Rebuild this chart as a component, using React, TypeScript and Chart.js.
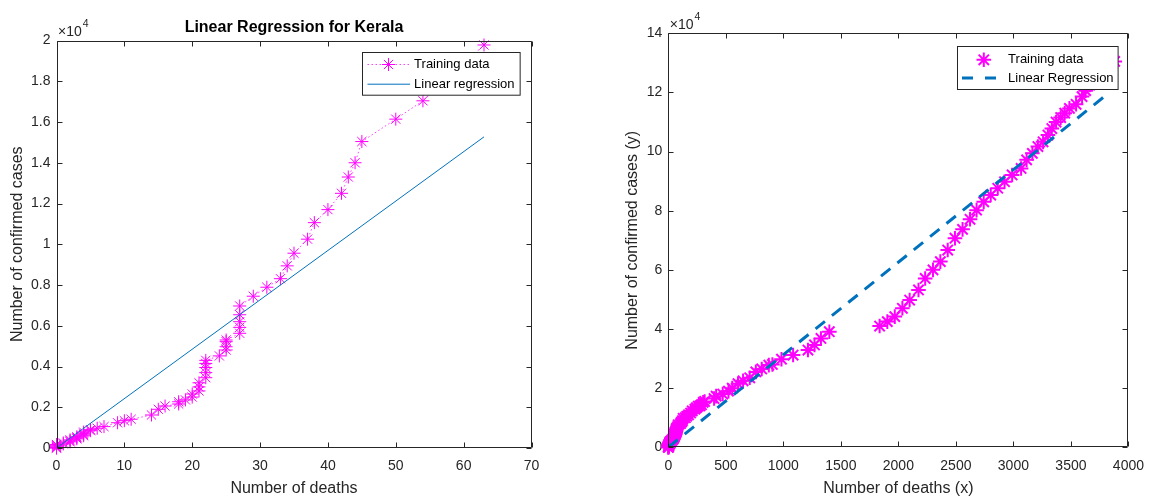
import React, { useEffect, useRef } from 'react';
import { Chart, registerables } from 'chart.js';

Chart.register(...registerables);

// ---------- Left panel: Kerala ----------
const keralaDeaths = [0, 0, 0, 0, 0, 0, 0, 1, 1, 2, 2, 2, 3, 3, 3, 4, 4, 4, 4, 5, 5, 6, 7, 9, 10, 11, 14, 15, 16, 18, 18, 19, 20, 20, 21, 21, 21, 22, 22, 22, 22, 22, 24, 25, 25, 25, 25, 27, 27, 27, 27, 27, 29, 31, 33, 34, 35, 37, 38, 40, 42, 43, 44, 45, 50, 54, 63];
const keralaCases = [1, 5, 20, 60, 100, 140, 170, 200, 250, 300, 350, 400, 450, 500, 550, 600, 650, 720, 780, 850, 900, 970, 1050, 1240, 1340, 1410, 1620, 1900, 2060, 2160, 2270, 2360, 2500, 2650, 2800, 3000, 3200, 3450, 3700, 3950, 4150, 4300, 4520, 4810, 4970, 5220, 5300, 5630, 5920, 6200, 6540, 6970, 7450, 7890, 8310, 8940, 9560, 10250, 11060, 11700, 12500, 13300, 14000, 15040, 16140, 17040, 19780];
const keralaFitDeaths = [0, 63];
const keralaFitCases = [0, 15270];
const keralaXTicks = [0, 10, 20, 30, 40, 50, 60, 70];
const keralaYTicks = [0, 2000, 4000, 6000, 8000, 10000, 12000, 14000, 16000, 18000, 20000];

// ---------- Right panel ----------
const rightDeaths = [0, 1, 2, 3, 4, 5, 6, 7, 9, 10, 12, 13, 15, 19, 24, 30, 38, 43, 45, 47, 50, 54, 57, 61, 64, 66, 68, 73, 81, 86, 106, 115, 123, 129, 148, 160, 176, 194, 208, 231, 245, 261, 276, 288, 303, 316, 398, 416, 473, 523, 556, 606, 650, 708, 761, 812, 874, 905, 984, 1085, 1214, 1271, 1327, 1400, 1837, 1904, 1969, 2035, 2098, 2175, 2233, 2301, 2365, 2429, 2492, 2558, 2623, 2680, 2742, 2803, 2864, 2923, 2989, 3067, 3115, 3165, 3213, 3258, 3300, 3334, 3371, 3411, 3446, 3487, 3545, 3597, 3628, 3663, 3690, 3719, 3745, 3777, 3806, 3881];
const rightCases = [7, 30, 150, 300, 500, 700, 900, 1100, 1150, 1200, 1500, 1600, 1800, 2000, 2100, 2400, 2600, 2900, 3100, 3300, 3500, 3700, 4100, 4500, 5000, 5500, 6000, 6500, 7000, 7600, 8000, 8500, 9000, 9800, 10000, 10500, 11000, 11600, 12300, 12900, 13400, 13900, 14000, 14400, 15200, 15500, 16500, 17300, 18000, 19000, 20000, 21500, 22500, 23500, 25500, 26500, 27800, 28000, 29800, 31200, 32900, 34600, 36800, 39100, 41000, 42500, 44200, 47000, 49800, 53200, 57100, 60000, 62800, 66700, 70700, 73700, 77100, 80200, 83000, 85300, 87600, 89800, 92100, 94300, 97200, 99400, 101700, 103300, 105600, 107800, 110000, 111500, 113000, 114600, 116000, 118600, 120600, 122500, 124300, 125500, 127000, 128200, 129500, 130500];
const rightFitDeaths = [0, 3790];
const rightFitCases = [0, 118600];
const rightXTicks = [0, 500, 1000, 1500, 2000, 2500, 3000, 3500, 4000];
const rightYTicks = [0, 20000, 40000, 60000, 80000, 100000, 120000, 140000];

const MAGENTA = '#ff00ff';
const BLUE = '#0072bd';
const AXIS = '#262626';
const FONT = '"Liberation Sans", Arial, Helvetica, sans-serif';

function pts(xs: number[], ys: number[]) {
  return xs.map((x, i) => ({ x, y: ys[i] }));
}

function drawStar(ctx: CanvasRenderingContext2D, x: number, y: number, r: number, lw: number, color: string) {
  ctx.save();
  ctx.setLineDash([]);
  ctx.strokeStyle = color;
  ctx.lineWidth = lw;
  ctx.beginPath();
  const d = r * Math.SQRT1_2;
  ctx.moveTo(x - r, y); ctx.lineTo(x + r, y);
  ctx.moveTo(x, y - r); ctx.lineTo(x, y + r);
  ctx.moveTo(x - d, y - d); ctx.lineTo(x + d, y + d);
  ctx.moveTo(x - d, y + d); ctx.lineTo(x + d, y - d);
  ctx.stroke();
  ctx.restore();
}

const decorPlugin = {
  id: 'decor',
  afterDatasetsDraw(chart: any, _args: any, opts: any) {
    const { ctx, chartArea: a, scales } = chart;
    ctx.save();
    ctx.setLineDash([]);
    // frame
    const L = Math.round(a.left) + 0.5;
    const R = Math.round(a.right) - 0.5;
    const T = Math.round(a.top) + 0.5;
    const B = Math.round(a.bottom) - 0.5;
    ctx.strokeStyle = AXIS;
    ctx.lineWidth = 1;
    ctx.beginPath();
    ctx.rect(L, T, R - L, B - T);
    const tl = 5;
    scales.x.ticks.forEach((t: any) => {
      const px = Math.round(scales.x.getPixelForValue(t.value)) + 0.5;
      ctx.moveTo(px, B); ctx.lineTo(px, B - tl);
      ctx.moveTo(px, T); ctx.lineTo(px, T + tl);
    });
    scales.y.ticks.forEach((t: any) => {
      const py = Math.round(scales.y.getPixelForValue(t.value)) + 0.5;
      ctx.moveTo(L, py); ctx.lineTo(L + tl, py);
      ctx.moveTo(R, py); ctx.lineTo(R - tl, py);
    });
    ctx.stroke();

    // exponent label
    ctx.fillStyle = AXIS;
    ctx.textAlign = 'left';
    ctx.textBaseline = 'alphabetic';
    ctx.font = `14px ${FONT}`;
    const ex = a.left + 1.5;
    const ey = a.top - 4.8;
    ctx.fillText('\u00d710', ex, ey);
    const w = ctx.measureText('\u00d710').width;
    ctx.font = `10.5px ${FONT}`;
    ctx.fillText('4', ex + w + 1, ey - 9);

    // legend
    const lg = opts.legend;
    ctx.font = `13px ${FONT}`;
    const textW = Math.max(...lg.items.map((it: any) => ctx.measureText(it.label).width));
    const bw = lg.textX + textW + lg.padR;
    const x0 = Math.round(a.right - lg.rightInset - bw) + 0.5;
    const y0 = Math.round(a.top + lg.topInset) + 0.5;
    ctx.fillStyle = '#ffffff';
    ctx.fillRect(x0, y0, bw, lg.height);
    ctx.strokeStyle = AXIS;
    ctx.lineWidth = 1;
    ctx.strokeRect(x0, y0, bw, lg.height);
    lg.items.forEach((it: any, i: number) => {
      const y = y0 + lg.rowY[i];
      if (it.line) {
        ctx.save();
        ctx.strokeStyle = it.lineColor;
        ctx.lineWidth = it.lineWidth;
        ctx.setLineDash(it.dash || []);
        ctx.beginPath();
        ctx.moveTo(x0 + lg.sampleX0, y);
        ctx.lineTo(x0 + lg.sampleX1, y);
        ctx.stroke();
        ctx.restore();
      }
      if (it.star) drawStar(ctx, x0 + lg.starX, y, it.starR, it.starW, MAGENTA);
      ctx.fillStyle = '#000000';
      ctx.textBaseline = 'middle';
      ctx.font = `13px ${FONT}`;
      ctx.fillText(it.label, x0 + lg.textX, y);
    });
    ctx.restore();
  },
};

function tickOpts() {
  return { color: AXIS, font: { family: FONT, size: 14 }, maxRotation: 0, autoSkip: false };
}

function makeLeftConfig(): any {
  return {
    type: 'scatter',
    data: {
      datasets: [
        {
          label: 'Training data',
          data: pts(keralaDeaths, keralaCases),
          showLine: true,
          borderColor: 'rgba(255,0,255,0.75)',
          hoverBorderColor: 'rgba(255,0,255,0.75)',
          borderWidth: 1,
          borderDash: [1.5, 2.5],
          pointStyle: 'star',
          pointRadius: 6.5,
          pointHoverRadius: 6.5,
          pointBorderColor: MAGENTA,
          pointHoverBorderColor: MAGENTA,
          pointBackgroundColor: MAGENTA,
          pointHoverBackgroundColor: MAGENTA,
          pointBorderWidth: 1,
          pointHoverBorderWidth: 1,
          clip: false,
          order: 1,
        },
        {
          label: 'Linear regression',
          data: pts(keralaFitDeaths, keralaFitCases),
          showLine: true,
          borderColor: BLUE,
          hoverBorderColor: BLUE,
          borderWidth: 1,
          pointRadius: 0,
          pointHoverRadius: 0,
          order: 0,
        },
      ],
    },
    options: {
      responsive: false,
      animation: false,
      events: [],
      hover: { mode: null },
      layout: { padding: { left: 0, right: 45.5, top: 0, bottom: 0 } },
      plugins: {
        legend: { display: false },
        tooltip: { enabled: false },
        title: {
          display: true,
          text: 'Linear Regression for Kerala',
          fullSize: false,
          color: '#000000',
          font: { family: FONT, size: 16, weight: 'bold' },
          padding: { top: 18.1, bottom: 3.2 },
        },
        decor: {
          legend: {
            rightInset: 12.2, topInset: 11.8, height: 42.7, rowY: [12, 31.7],
            sampleX0: 5, sampleX1: 47.6, starX: 26, textX: 51.6, padR: 5.6,
            items: [
              { label: 'Training data', line: true, lineColor: 'rgba(255,0,255,0.75)', lineWidth: 1, dash: [1.5, 2.5], star: true, starR: 6.5, starW: 1 },
              { label: 'Linear regression', line: true, lineColor: BLUE, lineWidth: 1 },
            ],
          },
        },
      },
      scales: {
        x: {
          type: 'linear', min: 0, max: 70,
          afterBuildTicks: (s: any) => { s.ticks = keralaXTicks.map((v) => ({ value: v })); },
          afterFit: (s: any) => { s.height = 50; },
          ticks: { ...tickOpts(), padding: 10, callback: (v: any) => String(v) },
          grid: { display: false, drawTicks: false },
          border: { display: false },
          title: { display: true, text: 'Number of deaths', color: AXIS, font: { family: FONT, size: 16 }, padding: { top: 0, bottom: 0 } },
        },
        y: {
          type: 'linear', min: 0, max: 20000,
          afterBuildTicks: (s: any) => { s.ticks = keralaYTicks.map((v) => ({ value: v })); },
          afterFit: (s: any) => { s.width = 56.5; },
          ticks: { ...tickOpts(), padding: 6, callback: (v: any) => String(Math.round(v / 1000) / 10) },
          grid: { display: false, drawTicks: false },
          border: { display: false },
          title: { display: true, text: 'Number of confirmed cases', color: AXIS, font: { family: FONT, size: 16 }, padding: { top: 8.1, bottom: 0 } },
        },
      },
    },
    plugins: [decorPlugin],
  };
}

function makeRightConfig(): any {
  return {
    type: 'scatter',
    data: {
      datasets: [
        {
          label: 'Training data',
          data: pts(rightDeaths, rightCases),
          showLine: false,
          pointStyle: 'star',
          pointRadius: 7.3,
          pointHoverRadius: 7.3,
          pointBorderColor: MAGENTA,
          pointHoverBorderColor: MAGENTA,
          pointBackgroundColor: MAGENTA,
          pointHoverBackgroundColor: MAGENTA,
          pointBorderWidth: 2,
          pointHoverBorderWidth: 2,
          clip: false,
          order: 1,
        },
        {
          label: 'Linear Regression',
          data: pts(rightFitDeaths, rightFitCases),
          showLine: true,
          borderColor: BLUE,
          hoverBorderColor: BLUE,
          borderWidth: 3,
          borderDash: [12, 9],
          pointRadius: 0,
          pointHoverRadius: 0,
          order: 0,
        },
      ],
    },
    options: {
      responsive: false,
      animation: false,
      events: [],
      hover: { mode: null },
      layout: { padding: { left: 0, right: 18.7, top: 33.3, bottom: 0 } },
      plugins: {
        legend: { display: false },
        tooltip: { enabled: false },
        decor: {
          legend: {
            rightInset: 11, topInset: 12.4, height: 43, rowY: [13.3, 31.6],
            sampleX0: 4.5, sampleX1: 47, starX: 26.3, textX: 50.6, padR: 4.5,
            items: [
              { label: 'Training data', line: false, star: true, starR: 7.3, starW: 2 },
              { label: 'Linear Regression', line: true, lineColor: BLUE, lineWidth: 3, dash: [11, 12] },
            ],
          },
        },
      },
      scales: {
        x: {
          type: 'linear', min: 0, max: 4000,
          afterBuildTicks: (s: any) => { s.ticks = rightXTicks.map((v) => ({ value: v })); },
          afterFit: (s: any) => { s.height = 50.7; },
          ticks: { ...tickOpts(), padding: 10, callback: (v: any) => String(v) },
          grid: { display: false, drawTicks: false },
          border: { display: false },
          title: { display: true, text: 'Number of deaths (x)', color: AXIS, font: { family: FONT, size: 16 }, padding: { top: 0, bottom: 0 } },
        },
        y: {
          type: 'linear', min: 0, max: 140000,
          afterBuildTicks: (s: any) => { s.ticks = rightYTicks.map((v) => ({ value: v })); },
          afterFit: (s: any) => { s.width = 91.3; },
          ticks: { ...tickOpts(), padding: 6, callback: (v: any) => String(Math.round(v / 1e4)) },
          grid: { display: false, drawTicks: false },
          border: { display: false },
          title: { display: true, text: 'Number of confirmed cases (y)', color: AXIS, font: { family: FONT, size: 16 }, padding: { top: 46.1, bottom: 0 } },
        },
      },
    },
    plugins: [decorPlugin],
  };
}

function Panel({ left, make }: { left: number; make: () => any }) {
  const ref = useRef<HTMLCanvasElement>(null);
  useEffect(() => {
    const chart = new Chart(ref.current as HTMLCanvasElement, make());
    return () => chart.destroy();
  }, []);
  return (
    <canvas
      ref={ref}
      width={577}
      height={498}
      style={{ position: 'absolute', left, top: 0, width: 577, height: 498 }}
    />
  );
}

export default function App() {
  return (
    <div style={{ position: 'absolute', left: 0, top: 0, width: 1154, height: 498, background: '#ffffff', overflow: 'hidden' }}>
      <Panel left={0} make={makeLeftConfig} />
      <Panel left={577} make={makeRightConfig} />
    </div>
  );
}
